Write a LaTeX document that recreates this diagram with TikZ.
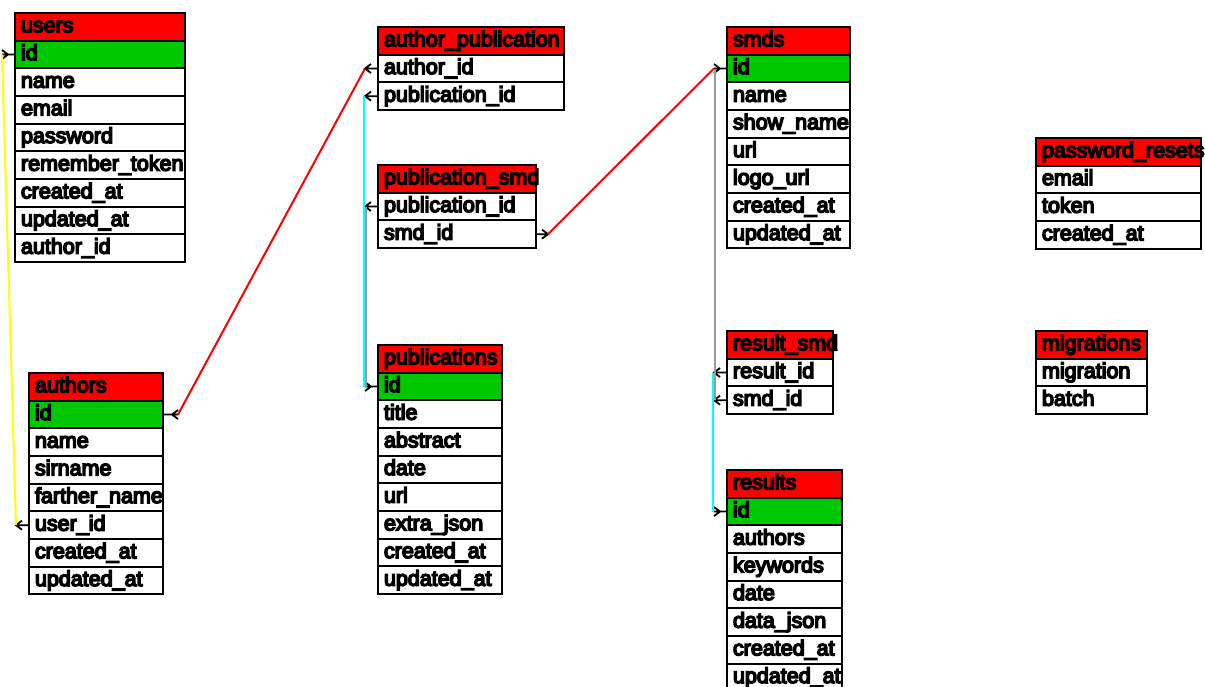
\documentclass[tikz,border=0pt]{standalone}
\usepackage{fontspec}
\newfontfamily\tblfont{Liberation Sans}[FakeBold=7]
\definecolor{hdrred}{HTML}{FF0000}
\definecolor{pkgreen}{HTML}{00C800}
\definecolor{lcyan}{HTML}{00FFFF}
\definecolor{lgray}{HTML}{999999}
\definecolor{lyellow}{HTML}{FFFF00}
\tikzset{
  row/.style={draw=black, line width=2pt, anchor=north west, minimum height=27.67pt,
    inner xsep=6pt, inner ysep=0pt, text height=15.5pt, text depth=4.5pt,
    font=\tblfont\fontsize{21.5}{24}\selectfont},
  stub/.style={draw=black, line width=1.8pt},
  link/.style={line width=2pt}
}
\newcommand\dbtable[7]{%
  \node[row, fill=hdrred, minimum width=#4pt] (#1-0) at (#2,#3) {\makebox[\dimexpr#4pt-12pt\relax][l]{#5}};
  \foreach \f [count=\i] in {#7}{%
    \pgfmathsetmacro\yy{#3+\i*27.67}%
    \ifnum\i=1 \ifnum#6=1 \def\rc{pkgreen}\else\def\rc{white}\fi\else\def\rc{white}\fi
    \node[row, fill=\rc, minimum width=#4pt] (#1-\i) at (#2,\yy) {\makebox[\dimexpr#4pt-12pt\relax][l]{\f}};
  }%
}
\newcommand\manyL[1]{\draw[stub] (#1.west) -- ++(-12,0) coordinate (#1-c) ++(6,-4.5) -- ++(-6,4.5) -- ++(6,4.5);}
\newcommand\oneL[1]{\draw[stub] (#1.west) -- ++(-12,0) coordinate (#1-c) ++(0,-4.5) -- ++(6,4.5) -- ++(-6,4.5);}
\newcommand\oneR[1]{\draw[stub] (#1.east) -- ++(14,0) coordinate (#1-c) ++(0,-4.5) -- ++(-6,4.5) -- ++(6,4.5);}
\newcommand\manyR[1]{\draw[stub] (#1.east) -- ++(11,0) coordinate (#1-c) ++(-6,-4.5) -- ++(6,4.5) -- ++(-6,4.5);}
\begin{document}
\begin{tikzpicture}[x=1pt,y=-1pt]
\fill[white] (0,0) rectangle (1205,686);
\useasboundingbox (0,0) rectangle (1205,686);

\dbtable{users}{14}{12}{170}{users}{1}{id,name,email,password,remember\_token,created\_at,updated\_at,author\_id}
\dbtable{authors}{28}{372}{134}{authors}{1}{id,name,sirname,farther\_name,user\_id,created\_at,updated\_at}
\dbtable{ap}{377}{26}{186}{author\_publication}{0}{author\_id,publication\_id}
\dbtable{ps}{377}{164}{158}{publication\_smd}{0}{publication\_id,smd\_id}
\dbtable{pub}{377}{344}{124}{publications}{1}{id,title,abstract,date,url,extra\_json,created\_at,updated\_at}
\dbtable{smds}{726}{26}{123}{smds}{1}{id,name,show\_name,url,logo\_url,created\_at,updated\_at}
\dbtable{pr}{1035}{137}{165}{password\_resets}{0}{email,token,created\_at}
\dbtable{rs}{726}{330}{106}{result\_smd}{0}{result\_id,smd\_id}
\dbtable{mig}{1035}{330}{111}{migrations}{0}{migration,batch}
\dbtable{res}{726}{469}{115}{results}{1}{id,authors,keywords,date,data\_json,created\_at,updated\_at}

% stubs
\oneL{users-1}
\manyL{authors-5}
\oneR{authors-1}
\manyL{ap-1}
\manyL{ap-2}
\manyL{ps-1}
\manyR{ps-2}
\oneL{pub-1}
\oneL{smds-1}
\manyL{rs-1}
\manyL{rs-2}
\oneL{res-1}

% connectors
\draw[link, lyellow] (users-1-c) -- (authors-5-c);
\draw[link, hdrred] (authors-1-c) -- (ap-1-c);
\draw[link, lcyan] ([xshift=-0.8pt]ap-2-c) -- ([xshift=-0.8pt]pub-1-c);
\draw[link, lgray] ([xshift=0.8pt]ps-1-c) -- ([xshift=0.8pt]pub-1-c);
\draw[link, hdrred] (ps-2-c) -- (smds-1-c);
\draw[link, lcyan] ([xshift=-0.8pt]rs-1-c) -- ([xshift=-0.8pt]res-1-c);
\draw[link, lgray] ([xshift=0.8pt]smds-1-c) -- ([xshift=0.8pt]rs-2-c);
\end{tikzpicture}
\end{document}
